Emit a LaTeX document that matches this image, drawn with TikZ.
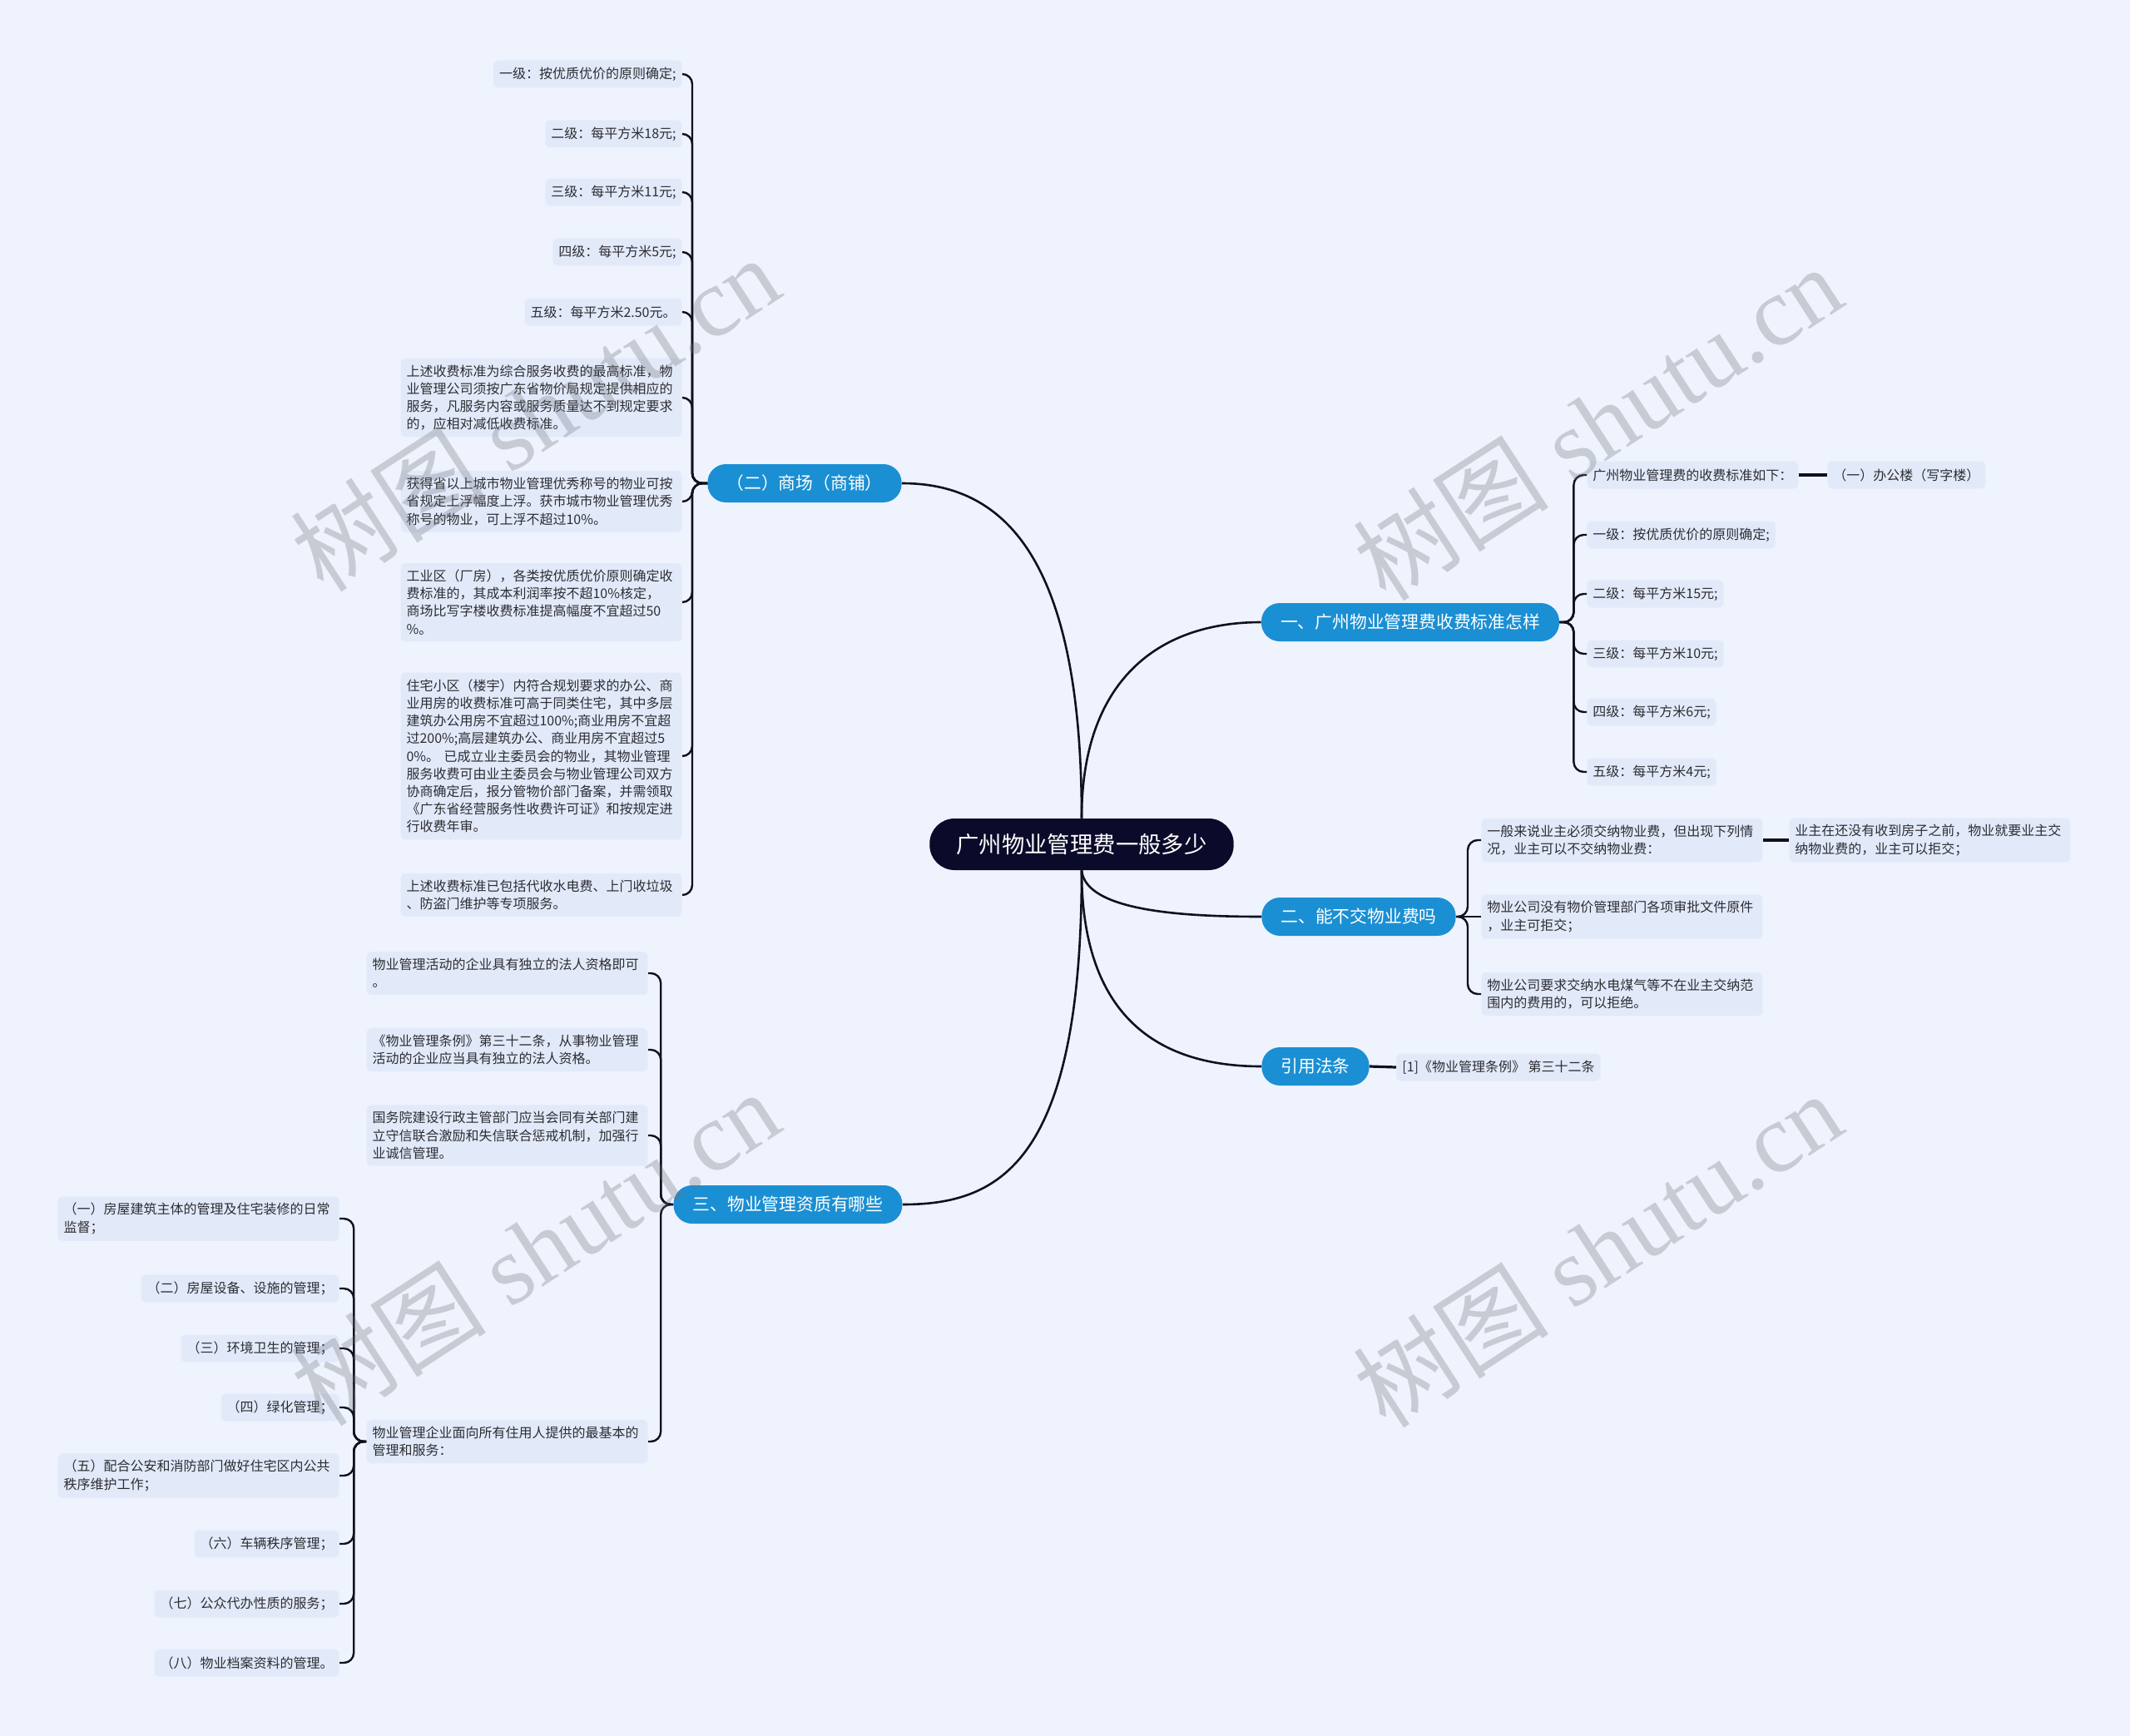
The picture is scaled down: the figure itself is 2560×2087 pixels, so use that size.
\documentclass[tikz,border=0pt]{standalone}
\usepackage{fontspec}
\newfontfamily\cjk{Noto Sans CJK SC}
\newfontfamily\wmlat{Liberation Serif}
\definecolor{bgc}{RGB}{238,243,254}
\definecolor{leafc}{RGB}{226,234,250}
\definecolor{bluec}{RGB}{27,143,211}
\definecolor{rootc}{RGB}{10,10,42}
\definecolor{linec}{RGB}{16,16,32}
\definecolor{txtc}{RGB}{45,45,50}
\definecolor{wmc}{RGB}{112,113,118}
\tikzset{
  leaf/.style={fill=leafc, rounded corners=3pt, inner xsep=3.5pt, inner ysep=4pt,
    minimum height=16.5pt, font=\cjk\fontsize{8}{10.6}\selectfont, text=txtc, align=left},
  leafw/.style={leaf, text width=162pt},
  branch/.style={fill=bluec, rounded corners=11pt, text=white, inner xsep=11.5pt,
    minimum height=23pt, font=\cjk\fontsize{10.4}{12}\selectfont},
  rootn/.style={fill=rootc, rounded corners=15pt, text=white, inner xsep=16pt,
    minimum height=31pt, font=\cjk\fontsize{13.7}{16}\selectfont},
  conn/.style={draw=linec, line width=1.2pt, rounded corners=6pt},
  mainconn/.style={draw=linec, line width=1.3pt},
  wm/.style={text=wmc, text opacity=0.3, rotate=33, font=\wmlat\fontsize{59}{59}\selectfont}
}
\begin{document}
\begin{tikzpicture}[x=0.5pt,y=-0.5pt]
\path[use as bounding box, fill=bgc] (0,0) rectangle (2560,2087);

% root and branches
\node[rootn] (r) at (1300,1015) {广州物业管理费一般多少};
\node[branch] (b1) at (1695,748) {一、广州物业管理费收费标准怎样};
\node[branch] (b2) at (1633,1102) {二、能不交物业费吗};
\node[branch] (b3) at (1581,1282) {引用法条};
\node[branch] (s) at (967,581) {（二）商场（商铺）};
\node[branch] (t) at (947,1448) {三、物业管理资质有哪些};

% main connectors
\draw[mainconn] (r.north) .. controls (1300,820) and (1390,748) .. (b1.west);
\draw[mainconn] (r.north) .. controls (1300,660) and (1200,581) .. (s.east);
\draw[mainconn] (r.south) .. controls (1305,1095) and (1420,1102) .. (b2.west);
\draw[mainconn] (r.south) .. controls (1300,1230) and (1400,1282) .. (b3.west);
\draw[mainconn] (r.south) .. controls (1300,1400) and (1200,1448) .. (t.east);

% branch 1 children
\node[leaf, anchor=west] (a0) at (1907,571) {广州物业管理费的收费标准如下：};
\node[leaf, anchor=west] (a1) at (1907,643) {一级：按优质优价的原则确定;};
\node[leaf, anchor=west] (a2) at (1907,714) {二级：每平方米15元;};
\node[leaf, anchor=west] (a3) at (1907,786) {三级：每平方米10元;};
\node[leaf, anchor=west] (a4) at (1907,856) {四级：每平方米6元;};
\node[leaf, anchor=west] (a5) at (1907,928) {五级：每平方米4元;};
\node[leaf, anchor=west] (a0g) at (2196,571) {（一）办公楼（写字楼）};
\foreach \c in {a0,a1,a2,a3,a4,a5}{
  \draw[conn] (b1.east) -- ++(17,0) |- (\c.west);
}
\draw[mainconn, line width=1.6pt] (a0.east) -- (a0g.west);

% branch 2 children
\node[leafw, anchor=west] (c1) at (1780,1010) {一般来说业主必须交纳物业费，但出现下列情\\况，业主可以不交纳物业费：};
\node[leafw, anchor=west] (c2) at (1780,1102) {物业公司没有物价管理部门各项审批文件原件\\，业主可拒交；};
\node[leafw, anchor=west] (c3) at (1780,1195) {物业公司要求交纳水电煤气等不在业主交纳范\\围内的费用的，可以拒绝。};
\node[leafw, anchor=west] (c1g) at (2150,1010) {业主在还没有收到房子之前，物业就要业主交\\纳物业费的，业主可以拒交；};
\draw[conn] (b2.east) -- ++(14,0) |- (c1.west);
\draw[conn] (b2.east) -- (c2.west);
\draw[conn] (b2.east) -- ++(14,0) |- (c3.west);
\draw[mainconn, line width=1.6pt] (c1.east) -- (c1g.west);

% branch 3 child
\node[leaf, anchor=west] (d1) at (1678,1283) {[1]《物业管理条例》 第三十二条};
\draw[mainconn, line width=1.6pt] (b3.east) -- (d1.west);

% left branch (二) children
\node[leaf, anchor=east] (s1) at (820,89) {一级：按优质优价的原则确定;};
\node[leaf, anchor=east] (s2) at (820,161) {二级：每平方米18元;};
\node[leaf, anchor=east] (s3) at (820,231) {三级：每平方米11元;};
\node[leaf, anchor=east] (s4) at (820,303) {四级：每平方米5元;};
\node[leaf, anchor=east] (s5) at (820,375) {五级：每平方米2.50元。};
\node[leafw, anchor=east] (s6) at (820,478) {上述收费标准为综合服务收费的最高标准，物\\业管理公司须按广东省物价局规定提供相应的\\服务，凡服务内容或服务质量达不到规定要求\\的，应相对减低收费标准。};
\node[leafw, anchor=east] (s7) at (820,603) {获得省以上城市物业管理优秀称号的物业可按\\省规定上浮幅度上浮。获市城市物业管理优秀\\称号的物业，可上浮不超过10\%。};
\node[leafw, anchor=east] (s8) at (820,724) {工业区（厂房），各类按优质优价原则确定收\\费标准的，其成本利润率按不超10\%核定，\\商场比写字楼收费标准提高幅度不宜超过50\\\%。};
\node[leafw, anchor=east] (s9) at (820,909) {住宅小区（楼宇）内符合规划要求的办公、商\\业用房的收费标准可高于同类住宅，其中多层\\建筑办公用房不宜超过100\%;商业用房不宜超\\过200\%;高层建筑办公、商业用房不宜超过5\\0\%。 已成立业主委员会的物业，其物业管理\\服务收费可由业主委员会与物业管理公司双方\\协商确定后，报分管物价部门备案，并需领取\\《广东省经营服务性收费许可证》和按规定进\\行收费年审。};
\node[leafw, anchor=east] (s10) at (820,1076) {上述收费标准已包括代收水电费、上门收垃圾\\、防盗门维护等专项服务。};
\foreach \c in {s1,s2,s3,s4,s5,s6,s7,s8,s9,s10}{
  \draw[conn] (s.west) -- ++(-18,0) |- (\c.east);
}

% left branch 三 children
\node[leafw, anchor=east] (t1) at (779,1170) {物业管理活动的企业具有独立的法人资格即可\\。};
\node[leafw, anchor=east] (t2) at (779,1262) {《物业管理条例》第三十二条，从事物业管理\\活动的企业应当具有独立的法人资格。};
\node[leafw, anchor=east] (t3) at (779,1365) {国务院建设行政主管部门应当会同有关部门建\\立守信联合激励和失信联合惩戒机制，加强行\\业诚信管理。};
\node[leafw, anchor=east] (t4) at (779,1733) {物业管理企业面向所有住用人提供的最基本的\\管理和服务：};
\foreach \c in {t1,t2,t3,t4}{
  \draw[conn] (t.west) -- ++(-15,0) |- (\c.east);
}

% grandchildren of t4
\node[leafw, anchor=east] (u1) at (408,1465) {（一）房屋建筑主体的管理及住宅装修的日常\\监督；};
\node[leaf, anchor=east] (u2) at (408,1549) {（二）房屋设备、设施的管理；};
\node[leaf, anchor=east] (u3) at (408,1621) {（三）环境卫生的管理；};
\node[leaf, anchor=east] (u4) at (408,1692) {（四）绿化管理；};
\node[leafw, anchor=east] (u5) at (408,1774) {（五）配合公安和消防部门做好住宅区内公共\\秩序维护工作；};
\node[leaf, anchor=east] (u6) at (408,1856) {（六）车辆秩序管理；};
\node[leaf, anchor=east] (u7) at (408,1928) {（七）公众代办性质的服务；};
\node[leaf, anchor=east] (u8) at (408,1999) {（八）物业档案资料的管理。};
\foreach \c in {u1,u2,u3,u4,u5,u6,u7,u8}{
  \draw[conn] (t4.west) -- ++(-15,0) |- (\c.east);
}

% watermarks
\node[wm] (w1) at (643,497) {{\cjk 树图} shutu.cn};
\node[wm] (w2) at (1920,508) {{\cjk 树图} shutu.cn};
\node[wm] (w3) at (643,1500) {{\cjk 树图} shutu.cn};
\node[wm] (w4) at (1920,1502) {{\cjk 树图} shutu.cn};
\end{tikzpicture}
\end{document}
